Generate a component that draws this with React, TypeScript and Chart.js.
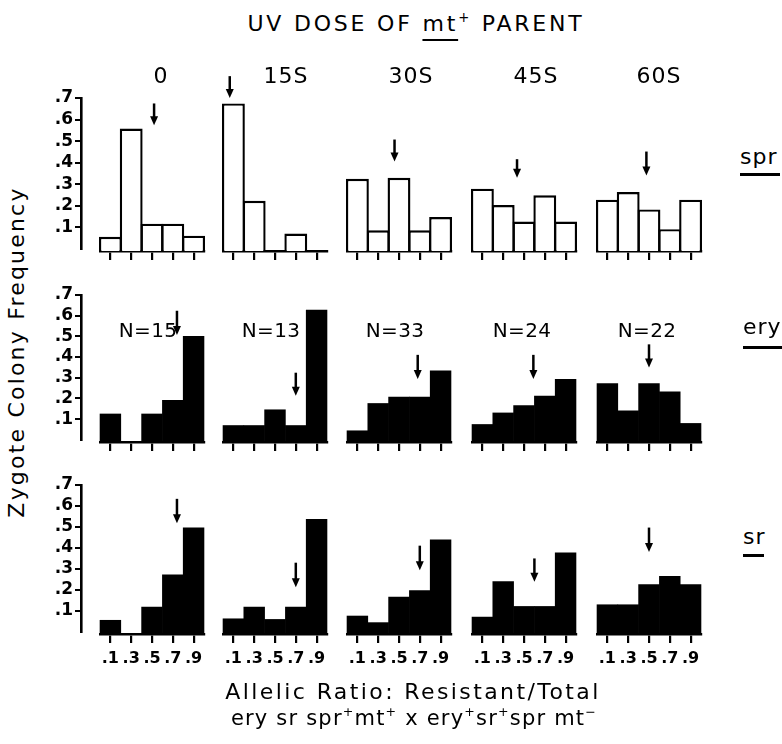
import React, { useEffect, useRef } from 'react';
import { Chart, registerables } from 'chart.js';

Chart.register(...registerables);

// ---------------- data ----------------
const DOSES = ['0', '15S', '30S', '45S', '60S'];
const RATIO_LABELS = ['.1', '.3', '.5', '.7', '.9'];
const RATIOS = [0.1, 0.3, 0.5, 0.7, 0.9];
const N_COUNTS = ['N=15', 'N=13', 'N=33', 'N=24', 'N=22'];
const MARKERS = ['spr', 'ery', 'sr'];

// zygote colony frequency per allelic-ratio class, one array per UV dose
const SPR_FREQ = [
  [0.065, 0.56, 0.125, 0.125, 0.07],
  [0.675, 0.23, 0, 0.08, 0],
  [0.33, 0.095, 0.335, 0.095, 0.155],
  [0.285, 0.21, 0.135, 0.255, 0.135],
  [0.235, 0.27, 0.19, 0.1, 0.235],
];
const ERY_FREQ = [
  [0.135, 0, 0.135, 0.2, 0.505],
  [0.08, 0.08, 0.155, 0.08, 0.63],
  [0.055, 0.185, 0.215, 0.215, 0.34],
  [0.085, 0.14, 0.175, 0.22, 0.3],
  [0.28, 0.15, 0.28, 0.24, 0.09],
];
const SR_FREQ = [
  [0.066, 0, 0.128, 0.28, 0.5],
  [0.073, 0.128, 0.07, 0.128, 0.54],
  [0.086, 0.055, 0.175, 0.206, 0.444],
  [0.081, 0.248, 0.131, 0.131, 0.383],
  [0.139, 0.139, 0.234, 0.273, 0.234],
];

// arrows: ratio position, tip level, tail level
const SPR_ARROW_RATIO = [0.52, 0.065, 0.457, 0.433, 0.475];
const SPR_ARROW_TIP = [0.575, 0.7, 0.41, 0.335, 0.345];
const SPR_ARROW_TAIL = [0.675, 0.8, 0.51, 0.42, 0.455];
const ERY_ARROW_RATIO = [0.74, 0.7, 0.68, 0.59, 0.5];
const ERY_ARROW_TIP = [0.51, 0.22, 0.3, 0.3, 0.355];
const ERY_ARROW_TAIL = [0.625, 0.33, 0.415, 0.415, 0.465];
const SR_ARROW_RATIO = [0.74, 0.7, 0.7, 0.6, 0.5];
const SR_ARROW_TIP = [0.52, 0.22, 0.3, 0.245, 0.385];
const SR_ARROW_TAIL = [0.635, 0.335, 0.415, 0.355, 0.5];

const Y_MAX = 0.7;
const Y_STEP = 0.1;

// ---------------- layout ----------------
const FONT = '"DejaVu Sans", sans-serif';
const PANEL_LEFT = [100, 223, 347, 472, 597];
const PANEL_W = 104;
const ROW_TOP = [98, 295, 485];
const ROW_ZERO = [251, 442, 634];
const PAD_T = 40;
const PAD_X = 10;
const X_AXIS_H = 32;
const Y_AXIS_X = 81;
const Y_AXIS_W = 50;

type ArrowSpec = { ratio: number; tip: number; tail: number };

function Panel(props: {
  row: number;
  col: number;
  values: number[];
  arrow: ArrowSpec;
  filled: boolean;
  showLabels: boolean;
}) {
  const { row, col, values, arrow, filled, showLabels } = props;
  const ref = useRef<HTMLCanvasElement>(null);
  const left = PANEL_LEFT[col] - PAD_X;
  const top = ROW_TOP[row] - PAD_T;
  const width = PANEL_W + 2 * PAD_X;
  const height = PAD_T + (ROW_ZERO[row] - ROW_TOP[row]) + X_AXIS_H;

  useEffect(() => {
    if (!ref.current) return;
    const arrowPlugin = {
      id: 'doseArrow',
      afterDatasetsDraw(chart: any) {
        const ctx = chart.ctx;
        const xs = chart.scales.x;
        const ys = chart.scales.y;
        const idx = (arrow.ratio - RATIOS[0]) / (RATIOS[1] - RATIOS[0]);
        const px = xs.getPixelForValue(idx);
        const yTip = ys.getPixelForValue(arrow.tip);
        const yTail = ys.getPixelForValue(arrow.tail);
        const head = 9;
        ctx.save();
        ctx.strokeStyle = '#000';
        ctx.fillStyle = '#000';
        ctx.lineWidth = 2.5;
        ctx.beginPath();
        ctx.moveTo(px, yTail);
        ctx.lineTo(px, yTip - head + 1);
        ctx.stroke();
        ctx.beginPath();
        ctx.moveTo(px - 4, yTip - head);
        ctx.lineTo(px + 4, yTip - head);
        ctx.lineTo(px, yTip);
        ctx.closePath();
        ctx.fill();
        ctx.restore();
      },
    };
    const chart = new Chart(ref.current, {
      type: 'bar',
      data: {
        labels: RATIO_LABELS,
        datasets: [
          {
            data: values,
            backgroundColor: filled ? '#000' : '#fff',
            borderColor: '#000',
            borderWidth: filled ? 0 : 2.4,
            borderSkipped: 'bottom',
            barPercentage: filled ? 1.03 : 1.1,
            categoryPercentage: 1,
            clip: false as any,
          },
        ],
      },
      options: {
        responsive: false,
        animation: false,
        events: [],
        layout: { padding: { top: PAD_T, left: PAD_X, right: PAD_X, bottom: 0 } },
        plugins: { legend: { display: false }, tooltip: { enabled: false }, title: { display: false } },
        scales: {
          x: {
            type: 'category',
            offset: true,
            z: 1,
            grid: {
              offset: false,
              drawOnChartArea: false,
              drawTicks: true,
              tickLength: 9,
              lineWidth: 2.2,
              color: '#000',
            },
            border: { display: true, color: '#000', width: 2.6 },
            ticks: {
              display: showLabels,
              color: '#000',
              font: { family: FONT, size: 16, weight: 'bold' },
              padding: 6,
              autoSkip: false,
              maxRotation: 0,
              minRotation: 0,
            },
            afterFit: (s: any) => {
              s.height = X_AXIS_H;
            },
          } as any,
          y: { display: false, min: 0, max: Y_MAX },
        },
      },
      plugins: [arrowPlugin],
    } as any);
    return () => chart.destroy();
  }, []);

  return (
    <canvas
      ref={ref}
      width={width}
      height={height}
      style={{ position: 'absolute', left, top, width, height }}
    />
  );
}

function YAxis(props: { row: number }) {
  const { row } = props;
  const ref = useRef<HTMLCanvasElement>(null);
  const padT = 20;
  const padB = 10;
  const left = Y_AXIS_X - Y_AXIS_W;
  const top = ROW_TOP[row] - padT;
  const width = Y_AXIS_W + 4;
  const height = padT + (ROW_ZERO[row] - ROW_TOP[row]) + padB;

  useEffect(() => {
    if (!ref.current) return;
    const chart = new Chart(ref.current, {
      type: 'bar',
      data: { labels: [''], datasets: [{ data: [] }] },
      options: {
        responsive: false,
        animation: false,
        events: [],
        layout: { padding: { top: padT, bottom: padB, left: 0, right: 0 } },
        plugins: { legend: { display: false }, tooltip: { enabled: false } },
        scales: {
          x: { display: false },
          y: {
            min: 0,
            max: Y_MAX,
            ticks: {
              stepSize: Y_STEP,
              autoSkip: false,
              color: '#000',
              padding: 2,
              font: { family: FONT, size: 17, weight: 'bold' },
              callback: (v: any) => (Number(v) === 0 ? '' : '.' + Math.round(Number(v) * 10)),
            },
            grid: {
              drawOnChartArea: false,
              drawTicks: true,
              tickLength: 6,
              lineWidth: 2,
              color: (c: any) => (c.tick && c.tick.value === 0 ? 'rgba(0,0,0,0)' : '#000'),
            },
            border: { display: true, color: '#000', width: 2.6 },
            afterFit: (s: any) => {
              s.width = Y_AXIS_W;
            },
          } as any,
        },
      },
    } as any);
    return () => chart.destroy();
  }, []);

  return (
    <canvas
      ref={ref}
      width={width}
      height={height}
      style={{ position: 'absolute', left, top, width, height }}
    />
  );
}

const supStyle: React.CSSProperties = { fontSize: '0.6em', verticalAlign: '0.7em', lineHeight: 0 };

function Text(props: { x: number; y: number; size: number; children: any; anchor?: 'center' | 'left'; spacing?: number; rotate?: boolean }) {
  const { x, y, size, children, anchor = 'center', spacing = 0, rotate = false } = props;
  const tx = anchor === 'center' ? '-50%' : '0';
  return (
    <div
      style={{
        position: 'absolute',
        left: x,
        top: y,
        fontSize: size,
        lineHeight: 1,
        whiteSpace: 'nowrap',
        letterSpacing: spacing,
        transform: `translate(${tx}, -50%)${rotate ? ' rotate(-90deg)' : ''}`,
        transformOrigin: 'center center',
      }}
    >
      {children}
    </div>
  );
}

export default function App() {
  const rows = [
    { freq: SPR_FREQ, ar: SPR_ARROW_RATIO, at: SPR_ARROW_TIP, al: SPR_ARROW_TAIL, filled: false },
    { freq: ERY_FREQ, ar: ERY_ARROW_RATIO, at: ERY_ARROW_TIP, al: ERY_ARROW_TAIL, filled: true },
    { freq: SR_FREQ, ar: SR_ARROW_RATIO, at: SR_ARROW_TIP, al: SR_ARROW_TAIL, filled: true },
  ];
  const headerX = [161, 286, 411, 536, 659];
  const nX = [148, 271, 395, 522, 647];
  const markerY = [157, 327, 537];
  const markerX = [740, 743, 743];
  const underline = [
    { x: 740, y: 173, w: 40 },
    { x: 743, y: 346, w: 39 },
    { x: 743, y: 554, w: 21 },
  ];

  return (
    <div
      style={{
        position: 'absolute',
        left: 0,
        top: 0,
        width: 782,
        height: 744,
        background: '#fff',
        overflow: 'hidden',
        fontFamily: FONT,
        color: '#000',
      }}
    >
      {rows.map((r, ri) => (
        <React.Fragment key={ri}>
          <YAxis row={ri} />
          {r.freq.map((vals, ci) => (
            <Panel
              key={ci}
              row={ri}
              col={ci}
              values={vals}
              arrow={{ ratio: r.ar[ci], tip: r.at[ci], tail: r.al[ci] }}
              filled={r.filled}
              showLabels={ri === 2}
            />
          ))}
        </React.Fragment>
      ))}

      <Text x={416} y={24} size={22} spacing={2.8}>
        UV DOSE OF{' '}
        <span style={{ textDecoration: 'underline', textDecorationThickness: 2, textUnderlineOffset: 8 }}>mt</span>
        <sup style={supStyle}>+</sup> PARENT
      </Text>

      {DOSES.map((d, i) => (
        <Text key={d} x={headerX[i]} y={76} size={22} spacing={1}>
          {d}
        </Text>
      ))}

      {N_COUNTS.map((n, i) => (
        <Text key={n} x={nX[i]} y={330} size={20} spacing={0.3}>
          {n}
        </Text>
      ))}

      {MARKERS.map((m, i) => (
        <React.Fragment key={m}>
          <Text x={markerX[i]} y={markerY[i]} size={22} anchor="left" spacing={1}>
            {m}
          </Text>
          <div
            style={{
              position: 'absolute',
              left: underline[i].x,
              top: underline[i].y,
              width: underline[i].w,
              height: 3,
              background: '#000',
            }}
          />
        </React.Fragment>
      ))}

      <Text x={17} y={352} size={22} spacing={2.2} rotate>
        Zygote Colony Frequency
      </Text>

      <Text x={413} y={692} size={22} spacing={2.4}>
        Allelic Ratio: Resistant/Total
      </Text>
      <Text x={414} y={718} size={21} spacing={1.2}>
        ery sr spr<sup style={supStyle}>+</sup>mt<sup style={supStyle}>+</sup> x ery
        <sup style={supStyle}>+</sup>sr<sup style={supStyle}>+</sup>spr mt<sup style={supStyle}>−</sup>
      </Text>
    </div>
  );
}
